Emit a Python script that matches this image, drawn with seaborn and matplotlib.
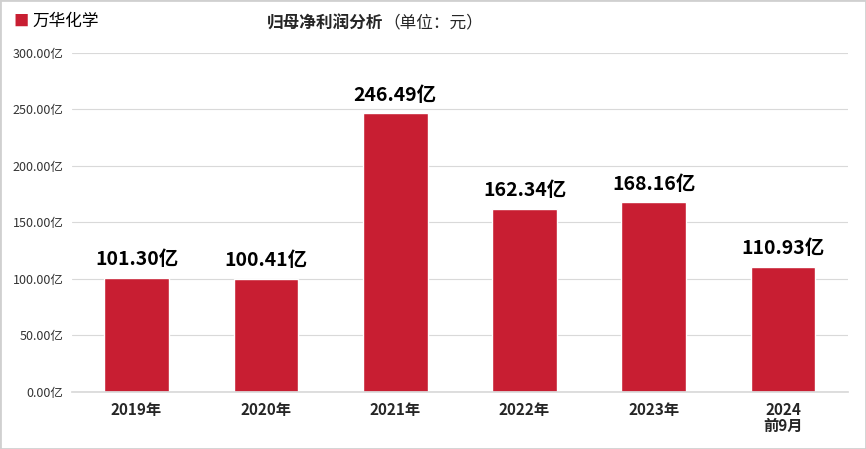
import matplotlib
matplotlib.use('Agg')
import matplotlib.pyplot as plt
import seaborn as sns
import pandas as pd

# 数据
years = ['2019年', '2020年', '2021年', '2022年', '2023年', '2024\n前9月']
profit = [101.30, 100.41, 246.49, 162.34, 168.16, 110.93]
ticks = [0, 50, 100, 150, 200, 250, 300]

df = pd.DataFrame({'year': years, 'profit': profit})

sns.set_theme(style='white')
plt.rcParams['font.family'] = ['Noto Sans CJK SC', 'DejaVu Sans']

red = '#C81E32'
fig = plt.figure(figsize=(8.66, 4.49), dpi=100)
ax = fig.add_axes([0.083, 0.127, 0.896, 0.755])

sns.barplot(data=df, x='year', y='profit', color=red, width=0.5,
            saturation=1, ax=ax)

ax.set_ylim(0, 300)
ax.set_yticks(ticks)
ax.set_yticklabels([f'{t:.2f}亿' for t in ticks], fontsize=9, color='#333333')
ax.yaxis.grid(True, color='#D9D9D9', linewidth=0.8)
ax.set_axisbelow(True)
ax.tick_params(axis='y', length=0, pad=6)
ax.tick_params(axis='x', length=0, pad=7)
for lab in ax.get_xticklabels():
    lab.set_fontweight('bold')
    lab.set_fontsize(11)
    lab.set_linespacing(1.0)
for s in ['top', 'right', 'left']:
    ax.spines[s].set_visible(False)
ax.spines['bottom'].set_color('#D9D9D9')
ax.set_xlabel('')
ax.set_ylabel('')

for i, v in enumerate(profit):
    ax.annotate(f'{v:.2f}亿', (i, v), xytext=(0, 6), textcoords='offset points',
                ha='center', va='bottom', fontsize=14, fontweight='bold', color='black')

# 标题和图例
fig.text(0.016, 0.953, '■', color=red, fontsize=11, va='center')
fig.text(0.037, 0.953, '万华化学', fontsize=12, va='center', color='black')
fig.text(0.443, 0.948, '归母净利润分析', fontsize=12, fontweight='bold', va='center', ha='right')
fig.text(0.443, 0.948, '（单位：元）', fontsize=12, va='center', ha='left')

# 边框
fig.patches.append(plt.Rectangle((0, 0), 1, 1, transform=fig.transFigure,
                                 fill=False, edgecolor='#D0D0D0', linewidth=2))

fig.savefig('out.png', dpi=100)
